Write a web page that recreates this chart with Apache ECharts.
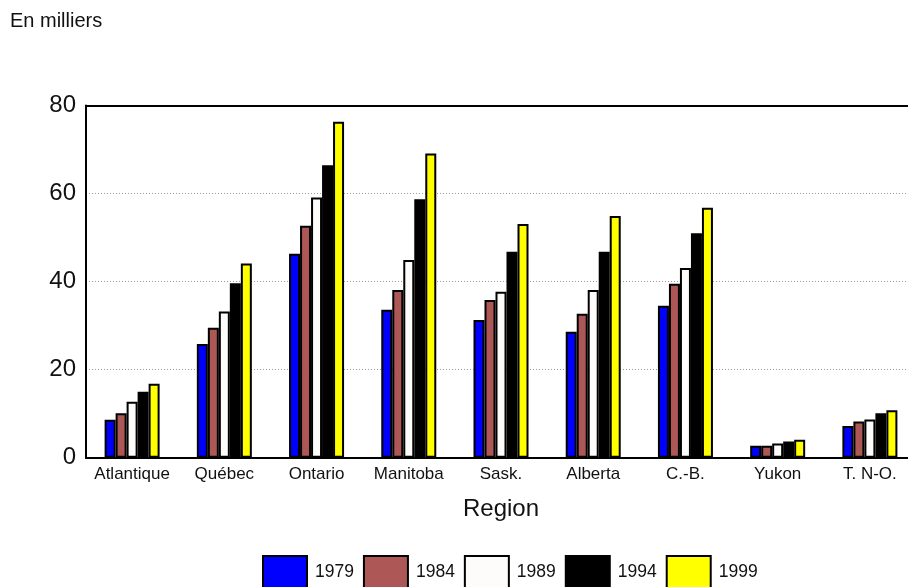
<!DOCTYPE html>
<html>
<head>
<meta charset="utf-8">
<script src="https://cdn.jsdelivr.net/npm/echarts@6/dist/echarts.min.js"></script>
<style>
  body { margin: 0; background: #fff; overflow: hidden; }
  /* plot runs a little past the right edge of the picture, as in the original */
  #chart { width: 916px; height: 587px; }
</style>
</head>
<body>
<div id="chart"></div>
<script>
// regions
const regions = ['Atlantique', 'Québec', 'Ontario', 'Manitoba', 'Sask.', 'Alberta', 'C.-B.', 'Yukon', 'T. N-O.'];
const years = ['1979', '1984', '1989', '1994', '1999'];

// values in thousands
const v1979 = [8.6, 25.8, 46.3, 33.6, 31.3, 28.6, 34.5, 2.7, 7.2];
const v1984 = [10.1, 29.5, 52.7, 38.1, 35.8, 32.7, 39.5, 2.7, 8.2];
const v1989 = [12.7, 33.2, 59.1, 44.9, 37.7, 38.1, 43.1, 3.2, 8.7];
const v1994 = [15.0, 39.6, 66.4, 58.7, 46.8, 46.8, 51.0, 3.7, 10.1];
const v1999 = [16.8, 44.1, 76.3, 69.1, 53.1, 54.9, 56.8, 4.1, 10.8];

const yTicks = [0, 20, 40, 60, 80];

const colors = ['#0000ff', '#ad5757', '#fdfcfa', '#000000', '#ffff00'];
const values = [v1979, v1984, v1989, v1994, v1999];

const font = 'Liberation Sans, Arial, sans-serif';

const chart = echarts.init(document.getElementById('chart'));

const option = {
  animation: false,
  graphic: [
    {
      type: 'text',
      left: 10,
      top: 11,
      style: { text: 'En milliers', font: '20px ' + font, fill: '#111' }
    }
  ],
  legend: {
    left: 257,
    top: 550,
    itemWidth: 44,
    itemHeight: 33,
    itemGap: 9,
    icon: 'rect',
    data: years,
    textStyle: { fontFamily: font, fontSize: 17.5, color: '#111', padding: [0, 0, 0, 3] }
  },
  grid: {
    left: 86,
    right: 0,
    top: 105.5,
    bottom: 129.3
  },
  xAxis: [
    {
      type: 'category',
      data: regions,
      name: 'Region',
      nameLocation: 'middle',
      nameGap: 40,
      nameTextStyle: { fontFamily: font, fontSize: 24, color: '#111' },
      axisLine: { lineStyle: { color: '#000', width: 2 } },
      axisTick: { show: false },
      axisLabel: { fontFamily: font, fontSize: 17, color: '#111', margin: 8, interval: 0 }
    },
    {
      type: 'category',
      data: regions,
      position: 'top',
      axisLine: { lineStyle: { color: '#000', width: 2 } },
      axisTick: { show: false },
      axisLabel: { show: false }
    }
  ],
  yAxis: {
    type: 'value',
    min: yTicks[0],
    max: yTicks[yTicks.length - 1],
    interval: 20,
    axisLine: { show: true, lineStyle: { color: '#000', width: 2 } },
    axisTick: { show: false },
    axisLabel: { fontFamily: font, fontSize: 24, color: '#111', margin: 10 },
    splitLine: { lineStyle: { color: '#999', type: [1, 2], width: 1 } }
  },
  series: years.map((y, i) => ({
    name: y,
    type: 'bar',
    data: values[i],
    barWidth: 11,
    barGap: '0%',
    itemStyle: {
      color: colors[i],
      borderColor: '#000',
      borderWidth: 2
    }
  }))
};

chart.setOption(option);
</script>
</body>
</html>
